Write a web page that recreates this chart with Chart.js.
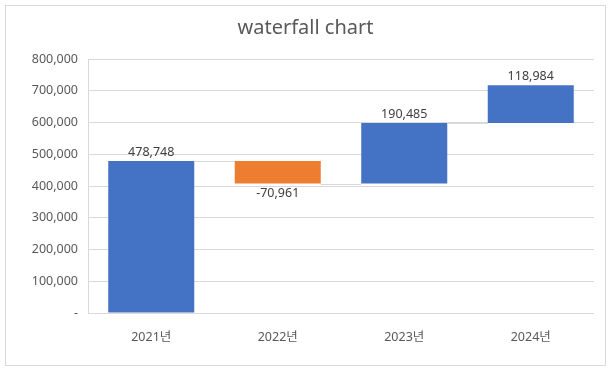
<!DOCTYPE html>
<html>
<head>
<meta charset="utf-8">
<script src="https://cdn.jsdelivr.net/npm/chart.js@4/dist/chart.umd.min.js"></script>
<style>
  html, body { margin: 0; padding: 0; background: #fff; }
  #wrap { width: 611px; height: 370px; }
</style>
</head>
<body>
<div id="wrap"><canvas id="wf"></canvas></div>
<script>
// data
const categories = ['2021년', '2022년', '2023년', '2024년'];
const changes = [478748, -70961, 190485, 118984];
const yMax = 800000;
const yStep = 100000;
const chartTitle = 'waterfall chart';

const FONT = '"Noto Sans", "Noto Sans CJK KR", sans-serif';
const TEXT = '#595959';
const GRID = '#d9d9d9';

// running totals -> floating bars [start, end]
let running = 0;
const ranges = [];
const totals = [];
changes.forEach((c) => {
    ranges.push([running, running + c]);
    running += c;
    totals.push(running);
});
const colors = changes.map((c) => (c < 0 ? '#ED7D31' : '#4472C4'));

// white bg, outer frame and title (centred on the whole frame)
const framePlugin = {
    id: 'frame',
    beforeDraw(chart) {
        const ctx = chart.ctx;
        ctx.save();
        ctx.fillStyle = '#fff';
        ctx.fillRect(0, 0, chart.width, chart.height);
        ctx.strokeStyle = GRID;
        ctx.lineWidth = 1;
        ctx.strokeRect(5.5, 5.5, 600, 360);
        ctx.fillStyle = TEXT;
        ctx.font = '20px ' + FONT;
        ctx.textAlign = 'center';
        ctx.textBaseline = 'middle';
        ctx.fillText(chartTitle, 305.5, 28);
        ctx.restore();
    }
};

// connectors between bars and value labels
const waterfallPlugin = {
    id: 'waterfall',
    afterDatasetsDraw(chart) {
        const ctx = chart.ctx;
        const y = chart.scales.y;
        const bars = chart.getDatasetMeta(0).data;
        ctx.save();
        ctx.strokeStyle = GRID;
        ctx.lineWidth = 1;
        for (let i = 0; i < bars.length - 1; i++) {
            const py = Math.round(y.getPixelForValue(totals[i])) + 0.5;
            const x1 = bars[i].x + bars[i].width / 2;
            const x2 = bars[i + 1].x - bars[i + 1].width / 2;
            ctx.beginPath();
            ctx.moveTo(x1, py);
            ctx.lineTo(x2, py);
            ctx.stroke();
        }
        ctx.fillStyle = '#404040';
        ctx.font = '12.5px ' + FONT;
        ctx.textAlign = 'center';
        ctx.textBaseline = 'middle';
        bars.forEach((bar, i) => {
            const label = changes[i].toLocaleString('en-US');
            if (changes[i] >= 0) {
                ctx.fillText(label, bar.x, y.getPixelForValue(ranges[i][1]) - 8.5);
            } else {
                ctx.fillText(label, bar.x, y.getPixelForValue(ranges[i][1]) + 10);
            }
        });
        ctx.restore();
    }
};

new Chart(document.getElementById('wf'), {
    type: 'bar',
    data: {
        labels: categories,
        datasets: [{
            data: ranges,
            backgroundColor: colors,
            borderWidth: 0,
            barPercentage: 0.68,
            categoryPercentage: 1
        }]
    },
    options: {
        responsive: true,
        maintainAspectRatio: false,
        animation: false,
        layout: { padding: { left: 5, right: 17, top: 59, bottom: 5 } },
        plugins: {
            legend: { display: false },
            tooltip: { enabled: false },
            title: { display: false }
        },
        scales: {
            x: {
                grid: { display: false, drawTicks: false },
                border: { display: false },
                ticks: { color: TEXT, font: { family: FONT, size: 12.5 }, padding: 17 },
                afterFit(scale) { scale.height = 52; }
            },
            y: {
                min: 0,
                max: yMax,
                grid: { color: GRID, drawTicks: false },
                border: { display: true, color: GRID },
                ticks: {
                    stepSize: yStep,
                    color: TEXT,
                    font: { family: FONT, size: 12.5 },
                    padding: 10,
                    callback: (v) => (v === 0 ? '-' : v.toLocaleString('en-US'))
                },
                afterFit(scale) { scale.width = 83; }
            }
        }
    },
    plugins: [framePlugin, waterfallPlugin]
});
</script>
</body>
</html>
